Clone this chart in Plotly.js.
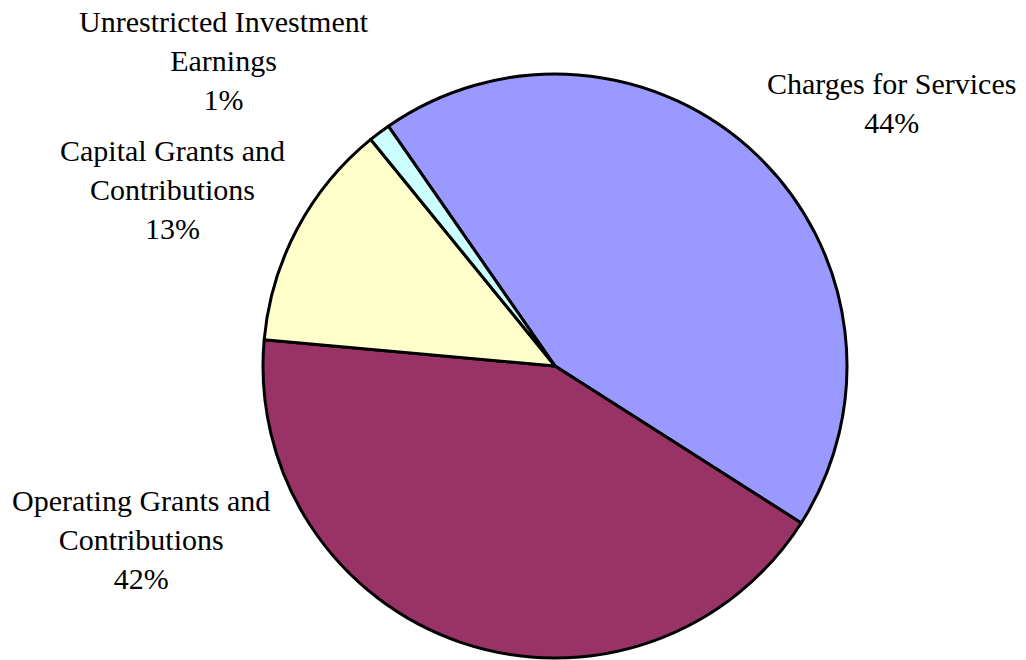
<!DOCTYPE html>
<html>
<head>
<meta charset="utf-8">
<script src="https://cdn.plot.ly/plotly-3.0.1.min.js"></script>
<style>html,body{margin:0;padding:0;background:#fff;}#chart{width:1026px;height:660px;}</style>
</head>
<body>
<div id="chart"></div>
<script>
// Data
const categories = ["Charges for Services", "Operating Grants and Contributions", "Capital Grants and Contributions", "Unrestricted Investment Earnings"];
const labelLines = ["Charges for Services", "Operating Grants and<br>Contributions", "Capital Grants and<br>Contributions", "Unrestricted Investment<br>Earnings"];
const values = [43.7, 42.4, 12.7, 1.2];
const colors = ["#9999FF", "#993366", "#FFFFCC", "#CCFFFF"];

// Label positions (pixel centers) - styling only
const W = 1026, H = 660;
const labelPos = [[891, 103], [141, 539], [172, 189], [224, 61]];

const total = values.reduce((a, b) => a + b, 0);
const annotations = categories.map((c, i) => ({
  xref: 'paper', yref: 'paper',
  x: labelPos[i][0] / W, y: 1 - labelPos[i][1] / H,
  xanchor: 'center', yanchor: 'middle',
  text: labelLines[i] + '<br>' + Math.round(values[i] / total * 100) + '%',
  showarrow: false,
  align: 'center',
  font: {family: 'Liberation Serif, Times New Roman, serif', size: 30, color: '#000'}
}));

const cx = 555, cy = 366, r = 292;
const trace = {
  type: 'pie',
  labels: categories,
  values: values,
  sort: false,
  direction: 'clockwise',
  rotation: -34.8,
  textinfo: 'none',
  hoverinfo: 'none',
  marker: {colors: colors, line: {color: '#000', width: 3}},
  domain: {x: [(cx - r) / W, (cx + r) / W], y: [1 - (cy + r) / H, 1 - (cy - r) / H]}
};

const layout = {
  width: W, height: H,
  margin: {l: 0, r: 0, t: 0, b: 0},
  showlegend: false,
  paper_bgcolor: '#fff',
  annotations: annotations
};

Plotly.newPlot('chart', [trace], layout, {staticPlot: true, displayModeBar: false});
</script>
</body>
</html>
